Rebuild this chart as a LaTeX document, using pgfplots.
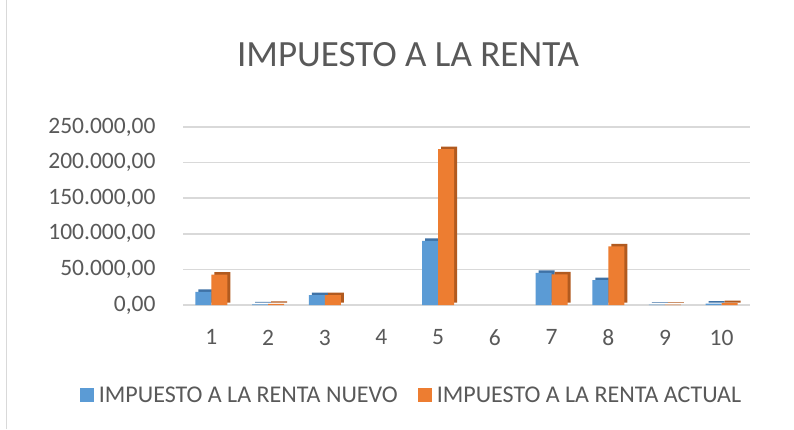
\documentclass[border=0pt]{standalone}
\usepackage{pgfplots}
\pgfplotsset{compat=1.18}
\usepackage{fontspec}
\setmainfont{Carlito}
\definecolor{cblue}{HTML}{5B9BD5}
\definecolor{corange}{HTML}{ED7D31}
\definecolor{cbluedark}{HTML}{3F72A6}
\definecolor{corangedark}{HTML}{B15A1F}
\definecolor{ctext}{HTML}{595959}
\definecolor{cgrid}{HTML}{D9D9D9}
\begin{document}
\begin{tikzpicture}
\path[use as bounding box, fill=white] (0pt,0pt) rectangle (794pt,429pt);
\draw[cgrid, line width=1pt] (6pt,0pt) -- (6pt,429pt);
\node[font=\fontsize{37}{42}\selectfont, text=ctext] at (408pt,374pt) {IMPUESTO A LA RENTA};
\begin{axis}[
  at={(183pt,124pt)}, anchor=south west,
  scale only axis, width=567pt, height=178pt,
  xmin=0.5, xmax=10.5, ymin=0, ymax=250000,
  ybar=0pt, bar width=16pt,
  axis line style={draw=none},
  tick style={draw=none},
  ytick={0,50000,100000,150000,200000,250000},
  xtick={1,...,10},
  ymajorgrids, grid style={line width=1.6pt, color=cgrid},
  scaled y ticks=false,
  yticklabel style={font=\fontsize{23.5}{27}\selectfont, text=ctext, xshift=-24pt, /pgf/number format/.cd, fixed, fixed zerofill, precision=2, use comma, 1000 sep={.}, assume math mode=true},
  xticklabel style={font=\fontsize{23.5}{27}\selectfont, text=ctext, yshift=-17pt, /pgf/number format/assume math mode=true},
  legend style={at={(0.403,-0.506)}, anchor=center, draw=none, legend columns=2, font=\fontsize{24}{28}\selectfont, text=ctext, /tikz/every even column/.append style={column sep=18pt}},
  legend image code/.code={\fill[#1] (0pt,-7pt) rectangle (14pt,7pt); \path (17pt,0pt);},
]
\addplot[fill=cbluedark, draw=none, bar shift=-5pt, yshift=2.5pt, forget plot] coordinates {(1,18500) (2,800) (3,14000) (5,90000) (7,45000) (8,35000) (9,400) (10,2000)};
\addplot[fill=cblue, draw=none, bar shift=-8pt] coordinates {(1,18500) (2,800) (3,14000) (5,90000) (7,45000) (8,35000) (9,400) (10,2000)};
\addplot[fill=corangedark, draw=none, bar shift=11pt, yshift=2.5pt, forget plot] coordinates {(1,42500) (2,1500) (3,14000) (5,219000) (7,43000) (8,82500) (9,500) (10,2500)};
\addplot[fill=corange, draw=none, bar shift=8pt] coordinates {(1,42500) (2,1500) (3,14000) (5,219000) (7,43000) (8,82500) (9,500) (10,2500)};
\legend{IMPUESTO A LA RENTA NUEVO, IMPUESTO A LA RENTA ACTUAL}
\end{axis}
\end{tikzpicture}
\end{document}
